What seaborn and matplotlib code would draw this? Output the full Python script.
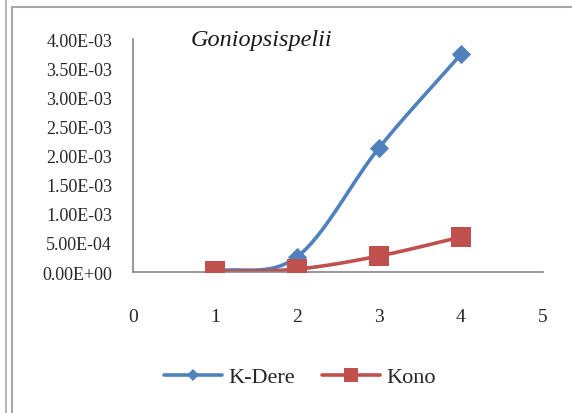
import numpy as np
import pandas as pd
import matplotlib
matplotlib.use("Agg")
import matplotlib.pyplot as plt
from matplotlib.lines import Line2D
from matplotlib.patches import Rectangle
import seaborn as sns

# ---- data ----
x_vals = [1, 2, 3, 4]
k_dere = [0.00001, 0.00026, 0.00213, 0.00374]
kono = [0.00001, 0.00005, 0.000275, 0.0006]
series_names = ["K-Dere", "Kono"]
y_ticks = [0, 0.0005, 0.001, 0.0015, 0.002, 0.0025, 0.003, 0.0035, 0.004]
y_tick_labels = ["0.00E+00", "5.00E-04", "1.00E-03", "1.50E-03", "2.00E-03",
                 "2.50E-03", "3.00E-03", "3.50E-03", "4.00E-03"]
x_ticks = [0, 1, 2, 3, 4, 5]
title = "Goniopsispelii"

BLUE = "#4F81BD"
RED = "#C0504D"
GRAY = "#868686"

sns.set_theme(style="white")
plt.rcParams["font.family"] = ["Liberation Serif", "DejaVu Serif"]


def smooth(xs, ys, n=40):
    """Catmull-Rom style smoothing (like Excel smoothed lines)."""
    xs = np.asarray(xs, float)
    ys = np.asarray(ys, float)
    px = np.concatenate([[2 * xs[0] - xs[1]], xs, [2 * xs[-1] - xs[-2]]])
    py = np.concatenate([[2 * ys[0] - ys[1]], ys, [2 * ys[-1] - ys[-2]]])
    outx, outy = [], []
    for i in range(1, len(px) - 2):
        p0, p1, p2, p3 = [np.array([px[j], py[j]]) for j in (i - 1, i, i + 1, i + 2)]
        c1 = p1 + (p2 - p0) / 6.0
        c2 = p2 - (p3 - p1) / 6.0
        t = np.linspace(0, 1, n)[:, None]
        pts = ((1 - t) ** 3) * p1 + 3 * ((1 - t) ** 2) * t * c1 + 3 * (1 - t) * t ** 2 * c2 + t ** 3 * p2
        outx.extend(pts[:, 0])
        outy.extend(pts[:, 1])
    return outx, outy


fig = plt.figure(figsize=(5.72, 4.14), dpi=100)
ax = fig.add_axes([133 / 572, 1 - 273 / 414, (543 - 133) / 572, (273 - 40) / 414])

rows = []
for name, ys in zip(series_names, [k_dere, kono]):
    sx, sy = smooth(x_vals, ys)
    rows.append(pd.DataFrame({"x": sx, "y": sy, "series": name}))
smooth_df = pd.concat(rows, ignore_index=True)
pts_df = pd.DataFrame({
    "x": x_vals * 2,
    "y": k_dere + kono,
    "series": [series_names[0]] * 4 + [series_names[1]] * 4,
})

palette = {"K-Dere": BLUE, "Kono": RED}
sns.lineplot(data=smooth_df, x="x", y="y", hue="series", palette=palette,
             linewidth=2.6, legend=False, ax=ax, sort=False, estimator=None)
sns.scatterplot(data=pts_df[pts_df.series == "K-Dere"], x="x", y="y", color=BLUE,
                marker="D", s=95, linewidth=0, legend=False, ax=ax, zorder=4)
sns.scatterplot(data=pts_df[pts_df.series == "Kono"], x="x", y="y", color=RED,
                marker="s", s=200, linewidth=0, legend=False, ax=ax, zorder=5)

ax.set_xlim(0, 5)
ax.set_ylim(0, 0.004)
ax.set_xticks(x_ticks)
ax.set_xticklabels([str(t) for t in x_ticks], fontsize=14)
ax.set_yticks(y_ticks)
ax.set_yticklabels(y_tick_labels, fontsize=13)
ax.tick_params(axis="x", length=0, pad=26)
ax.tick_params(axis="y", length=0, pad=15)
ax.set_xlabel("")
ax.set_ylabel("")
for s in ("top", "right"):
    ax.spines[s].set_visible(False)
for s in ("left", "bottom"):
    ax.spines[s].set_color(GRAY)
    ax.spines[s].set_linewidth(1.2)
ax.grid(False)
ax.patch.set_alpha(0)

ax.text((191 - 133) / 410, 1.0, title, transform=ax.transAxes, fontsize=17.5, style="italic",
        ha="left", va="center", color="#1a1a1a")

handles = [
    Line2D([], [], color=BLUE, lw=2.6, marker="D", markersize=6, markeredgewidth=0),
    Line2D([], [], color=RED, lw=2.6, marker="s", markersize=10, markeredgewidth=0),
]
fig.legend(handles, series_names, loc="center", bbox_to_anchor=(300 / 572, 1 - 378 / 414),
           ncol=2, frameon=False, fontsize=16, handlelength=2.6, handletextpad=0.3,
           columnspacing=1.2)

# outer frame lines
fig.add_artist(Line2D([6 / 572, 6 / 572], [0, 1], transform=fig.transFigure,
                      color="#A6A6A6", lw=1.2))
fig.add_artist(Rectangle((12 / 572, -0.1), 1.2, 1.1 - 8 / 414, transform=fig.transFigure,
                         fill=False, edgecolor="#A6A6A6", lw=1.5))

fig.savefig("out.png", dpi=100)
